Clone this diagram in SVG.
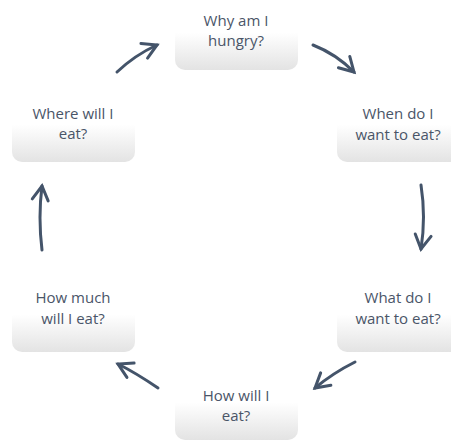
<svg xmlns="http://www.w3.org/2000/svg" width="451" height="441" viewBox="0 0 451 441">
<defs>
<linearGradient id="g" x1="0" y1="0" x2="0" y2="1">
<stop offset="0" stop-color="#ffffff"/>
<stop offset="0.45" stop-color="#ffffff"/>
<stop offset="1" stop-color="#e3e3e3"/>
</linearGradient>
<marker id="ah" markerUnits="userSpaceOnUse" orient="auto" refX="0" refY="0" markerWidth="20" markerHeight="20" viewBox="-14 -10 16 20" overflow="visible">
<path d="M -14 -8 L 0 0 L -14 8" fill="none" stroke="#44546a" stroke-width="3" stroke-linecap="round" stroke-linejoin="miter"/>
</marker>
</defs>
<style>
.box{fill:url(#g);}
.t{font-family:"Open Sans","Liberation Sans",sans-serif;font-size:15px;fill:#4a5568;text-anchor:middle;}
.c{fill:none;stroke:#44546a;stroke-width:3;stroke-linecap:round;marker-end:url(#ah);}
</style>
<rect width="451" height="441" fill="#ffffff"/>
<g id="n1"><rect class="box" x="175" y="2" width="123" height="68" rx="10"/><text class="t" x="236" y="26">Why am I</text><text class="t" x="236" y="46">hungry?</text></g>
<g id="n2"><rect class="box" x="337" y="94" width="123" height="68" rx="10"/><text class="t" x="398" y="119">When do I</text><text class="t" x="398" y="140">want to eat?</text></g>
<g id="n3"><rect class="box" x="337" y="284" width="123" height="68" rx="10"/><text class="t" x="398" y="303">What do I</text><text class="t" x="398" y="324">want to eat?</text></g>
<g id="n4"><rect class="box" x="175" y="372" width="123" height="68" rx="10"/><text class="t" x="236" y="401">How will I</text><text class="t" x="236" y="421">eat?</text></g>
<g id="n5"><rect class="box" x="12" y="284" width="123" height="68" rx="10"/><text class="t" x="73" y="303">How much</text><text class="t" x="73" y="324">will I eat?</text></g>
<g id="n6"><rect class="box" x="12" y="94" width="123" height="68" rx="10"/><text class="t" x="73" y="119">Where will I</text><text class="t" x="73" y="139">eat?</text></g>
<g id="connectors">
<path class="c" d="M 313 45 Q 336 54 354 72"/>
<path class="c" d="M 421 185 Q 426 217 421 249"/>
<path class="c" d="M 355 362 Q 333 373 315 388"/>
<path class="c" d="M 158 388 Q 136 373 118 364"/>
<path class="c" d="M 42 250 Q 38 217 42 186"/>
<path class="c" d="M 117 72 Q 135 55 157 45"/>
</g>
</svg>
